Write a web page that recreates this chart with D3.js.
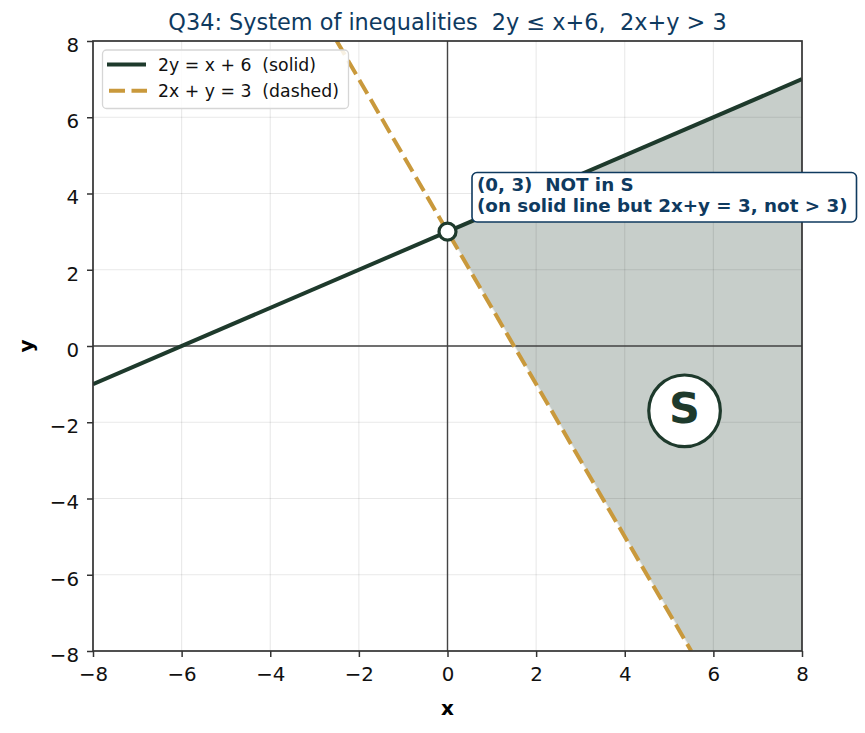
<!DOCTYPE html>
<html><head><meta charset="utf-8">
<script src="https://cdn.jsdelivr.net/npm/d3@7"></script>
<style>body{margin:0;background:#fff}svg{font-family:"DejaVu Sans",sans-serif}text{white-space:pre}</style>
</head><body>
<svg id="c" width="865" height="733"></svg>
<script>
const xDomain = [-8, 8];
const yDomain = [-8, 8];
const ticks = [-8, -6, -4, -2, 0, 2, 4, 6, 8];
const solidLine = [[-8, -1], [8, 7]];          // 2y = x + 6
const dashedLine = [[-2.5, 8], [5.5, -8]];      // 2x + y = 3
const regionS = [[0, 3], [8, 7], [8, -8], [5.5, -8]];
const openPoint = [0, 3];
const sLabelPos = [5.35, -1.7];
const legendLabels = ["2y = x + 6  (solid)", "2x + y = 3  (dashed)"];
const annotLines = ["(0, 3)  NOT in S", "(on solid line but 2x+y = 3, not > 3)"];
const title = "Q34: System of inequalities  2y \u2264 x+6,  2x+y > 3";

const M = {l: 93, r: 802, t: 41, b: 651};
const svg = d3.select("#c");
const x = d3.scaleLinear().domain(xDomain).range([M.l, M.r]);
const y = d3.scaleLinear().domain(yDomain).range([M.b, M.t]);
const dark = "#1e3a2c", gold = "#c9993c", navy = "#0f3a5f";
const fmt = d => d3.format("")(d).replace("-", "\u2212");

const line = d3.line().x(d => x(d[0])).y(d => y(d[1]));
// region
svg.append("path").attr("d", line(regionS) + "Z").attr("fill", dark).attr("fill-opacity", 0.25).attr("stroke", "none");

// grid
const g = svg.append("g");
ticks.forEach(t => {
  g.append("line").attr("x1", x(t)).attr("x2", x(t)).attr("y1", M.t).attr("y2", M.b).attr("stroke", "#000").attr("stroke-opacity", 0.09).attr("stroke-width", 1.1);
  g.append("line").attr("y1", y(t)).attr("y2", y(t)).attr("x1", M.l).attr("x2", M.r).attr("stroke", "#000").attr("stroke-opacity", 0.09).attr("stroke-width", 1.1);
});

// axes lines at 0
svg.append("line").attr("x1", x(0)).attr("x2", x(0)).attr("y1", M.t).attr("y2", M.b).attr("stroke", "#444").attr("stroke-width", 1.4);
svg.append("line").attr("y1", y(0)).attr("y2", y(0)).attr("x1", M.l).attr("x2", M.r).attr("stroke", "#444").attr("stroke-width", 1.4);

// clip
svg.append("clipPath").attr("id", "clip").append("rect").attr("x", M.l).attr("y", M.t).attr("width", M.r - M.l).attr("height", M.b - M.t);
const pl = svg.append("g").attr("clip-path", "url(#clip)");
pl.append("path").attr("d", line(dashedLine)).attr("stroke", "#fff").attr("stroke-width", 1.8).attr("opacity", 0.6).attr("fill", "none");
pl.append("path").attr("d", line(dashedLine)).attr("stroke", gold).attr("stroke-width", 4).attr("stroke-dasharray", "16,6.5").attr("fill", "none");
pl.append("path").attr("d", line(solidLine)).attr("stroke", dark).attr("stroke-width", 4).attr("fill", "none");

// open point
svg.append("circle").attr("cx", x(openPoint[0])).attr("cy", y(openPoint[1])).attr("r", 8.5).attr("fill", "#fff").attr("stroke", dark).attr("stroke-width", 3.2);

// S label
svg.append("circle").attr("cx", x(sLabelPos[0])).attr("cy", y(sLabelPos[1])).attr("r", 35.8).attr("fill", "#fff").attr("stroke", dark).attr("stroke-width", 3.2);
svg.append("text").attr("x", x(sLabelPos[0])).attr("y", y(sLabelPos[1]) + 12.5).attr("text-anchor", "middle")
  .attr("font-size", 43).attr("font-weight", "bold").attr("fill", dark).text("S");

// frame
svg.append("rect").attr("x", M.l).attr("y", M.t).attr("width", M.r - M.l).attr("height", M.b - M.t).attr("fill", "none").attr("stroke", "#333").attr("stroke-width", 1.7);

// axes
const xa = svg.append("g").attr("transform", `translate(0,${M.b})`).call(d3.axisBottom(x).tickValues(ticks).tickSize(6).tickPadding(10).tickFormat(fmt));
const ya = svg.append("g").attr("transform", `translate(${M.l},0)`).call(d3.axisLeft(y).tickValues(ticks).tickSize(6).tickPadding(8).tickFormat(fmt));
[xa, ya].forEach(a => {
  a.select(".domain").remove();
  a.selectAll("line").attr("stroke", "#333").attr("stroke-width", 1.5);
  a.selectAll("text").attr("font-size", 19.8).attr("fill", "#111").attr("font-family", "DejaVu Sans");
});
ya.selectAll("text").attr("dy", "0.52em");
svg.append("text").attr("x", (M.l + M.r) / 2).attr("y", 715).attr("text-anchor", "middle").attr("font-size", 20).attr("font-weight", "bold").text("x");
svg.append("text").attr("transform", `translate(33,${(M.t + M.b) / 2}) rotate(-90)`).attr("text-anchor", "middle").attr("font-size", 20).attr("font-weight", "bold").text("y");

// title
svg.append("text").attr("x", (M.l + M.r) / 2).attr("y", 30).attr("text-anchor", "middle").attr("font-size", 22.4).attr("fill", navy).text(title);

// legend
const lg = svg.append("g");
lg.append("rect").attr("x", 102.5).attr("y", 50).attr("width", 246).attr("height", 58.5).attr("rx", 4).attr("fill", "#fff").attr("fill-opacity", 0.85).attr("stroke", "#d6d6d6").attr("stroke-width", 1.3);
lg.append("line").attr("x1", 107).attr("x2", 146).attr("y1", 64.5).attr("y2", 64.5).attr("stroke", dark).attr("stroke-width", 4);
lg.append("line").attr("x1", 109).attr("x2", 147).attr("y1", 90.7).attr("y2", 90.7).attr("stroke", gold).attr("stroke-width", 4).attr("stroke-dasharray", "16,6.5");
legendLabels.forEach((t, i) => lg.append("text").attr("x", 158).attr("y", 71 + 26 * i).attr("font-size", 17.3).attr("fill", "#111").text(t));

// annotation
const an = svg.append("g");
an.append("rect").attr("x", 472).attr("y", 172.5).attr("width", 384.5).attr("height", 49.5).attr("rx", 5).attr("fill", "#fff").attr("stroke", navy).attr("stroke-width", 1.6);
annotLines.forEach((t, i) => an.append("text").attr("x", 477).attr("y", 191 + 20.8 * i).attr("font-size", 18.3).attr("font-weight", "bold").attr("fill", navy).text(t));
</script>
</body></html>
